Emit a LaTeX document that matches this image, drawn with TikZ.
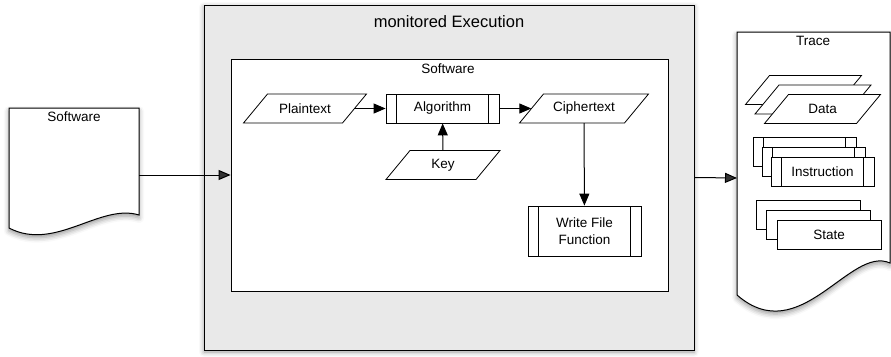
\documentclass[tikz,border=0pt]{standalone}
\usepackage{fontspec}
\setmainfont{Liberation Sans}
\usetikzlibrary{arrows.meta,shadows.blur}

\tikzset{
  txt/.style={font=\fontsize{13.5}{17}\selectfont},
  arr/.style={-{Triangle[length=12pt,width=10pt]}, line width=1pt},
  box/.style={draw, line width=0.8pt, fill=white, txt},
  iopath/.style={draw, line width=0.8pt, fill=white},
  procbox/.style={box, rectangle, minimum height=29pt,
    path picture={\draw[line width=0.8pt]
      ([xshift=10.5pt]path picture bounding box.north west) -- ([xshift=10.5pt]path picture bounding box.south west)
      ([xshift=-10.5pt]path picture bounding box.north east) -- ([xshift=-10.5pt]path picture bounding box.south east);}},
  statebox/.style={box, rectangle, minimum width=104pt, minimum height=29pt},
  docshape/.style={draw, line width=1pt, fill=white,
    blur shadow={shadow xshift=0pt, shadow yshift=-3pt, shadow blur radius=5pt}},
}

% parallelogram: name, x, y, side width, text
\newcommand{\ionode}[5]{%
  \path[iopath] ({#2-#4/2-12},{#3+14.5}) -- ++(#4,0) -- ++(24,-29) -- ++(-#4,0) -- cycle;
  \node[txt, inner sep=0pt, minimum width=#4pt, minimum height=29pt] (#1) at (#2,#3) {#5};}

\begin{document}
\begin{tikzpicture}[x=1pt, y=-1pt]
  \useasboundingbox (0,0) rectangle (891,356);

  % monitored execution
  \node[draw, line width=1pt, fill=gray!17, minimum width=490pt, minimum height=345pt,
    blur shadow={shadow xshift=0pt, shadow yshift=-2pt, shadow blur radius=5pt}] (outer) at (449,177.5) {};
  \node[font=\fontsize{16.5}{20}\selectfont] (title) at (449,22) {monitored Execution};
  \node[draw, line width=0.9pt, fill=white, minimum width=437pt, minimum height=232pt] (inner) at (449.5,175) {};
  \node[txt] (swlabel) at (448,69) {Software};

  \ionode{plain}{305}{108.5}{99}{Plaintext}
  \node[procbox, minimum width=113pt] (algo) at (442.5,108.5) {Algorithm};
  \ionode{cipher}{584}{108.5}{105}{Ciphertext}
  \ionode{key}{443}{165}{90}{Key}
  \node[procbox, minimum width=113pt, minimum height=50pt, align=center] (write) at (584.5,231) {Write File\\Function};

  \draw[arr] (plain) -- (algo);
  \draw[arr] (algo) -- (cipher);
  \draw[arr] (key) -- (algo);
  \draw[arr] (cipher) -- (write);

  % software document
  \draw[docshape] (9,108) -- (139,108) -- (139,215) .. controls (100,203) and (55,252) .. (9,228) -- cycle;
  \node[txt] (swdoc) at (74,117) {Software};
  \coordinate (swout) at (139,175);
  \draw[arr] (swout) -- (inner.west);

  % trace document
  \draw[docshape] (737,32) -- (890,32) -- (890,263) .. controls (850,245) and (800,350) .. (737,295) -- cycle;
  \node[txt] (tracelabel) at (813,41) {Trace};
  \coordinate (tracein) at (737,178);
  \draw[arr] (outer.east) -- (tracein);

  \ionode{data3}{803.5}{90}{92}{}
  \ionode{data2}{813}{99.5}{92}{}
  \ionode{data1}{822.5}{109}{92}{Data}

  \node[procbox, minimum width=103pt] (instr3) at (804.5,151.5) {};
  \node[procbox, minimum width=103pt] (instr2) at (813.5,161.5) {};
  \node[procbox, minimum width=103pt] (instr1) at (822.5,171.5) {Instruction};

  \node[statebox] (state3) at (808,214.5) {};
  \node[statebox] (state2) at (818.5,224.5) {};
  \node[statebox] (state1) at (829,234.5) {State};
\end{tikzpicture}
\end{document}
